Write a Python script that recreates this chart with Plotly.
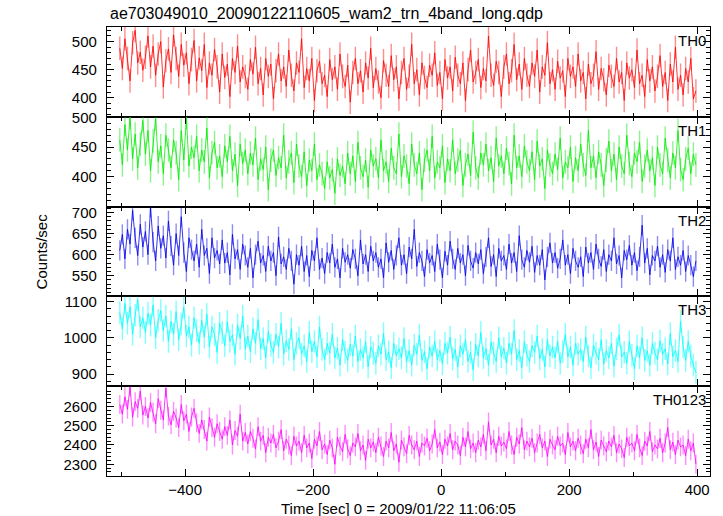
import numpy as np
import plotly.graph_objects as go
from plotly.subplots import make_subplots

# ---- data (4-s bins starting at t = -502 s) ----
T_START = -502
BIN = 4

th0 = [488, 452, 505, 470, 430, 498, 520, 462, 481, 449,
       472, 510, 455, 492, 440, 478, 500, 419, 466, 487,
       445, 512, 470, 438, 495, 458, 480, 425, 468, 502,
       430, 471, 448, 495, 418, 462, 440, 486, 455, 410,
       478, 436, 460, 402, 470, 445, 492, 428, 455, 438,
       415, 468, 442, 490, 425, 452, 405, 470, 438, 460,
       398, 448, 478, 430, 455, 420, 485, 440, 412, 462,
       445, 505, 418, 452, 430, 470, 395, 448, 465, 425,
       440, 402, 468, 432, 455, 415, 478, 438, 420, 458,
       392, 445, 470, 425, 448, 410, 462, 435, 488, 418,
       452, 428, 400, 466, 440, 420, 475, 432, 455, 398,
       445, 470, 415, 438, 495, 425, 450, 405, 462, 436,
       418, 458, 440, 480, 422, 445, 398, 468, 435, 455,
       412, 472, 440, 425, 462, 395, 450, 485, 428, 445,
       468, 418, 452, 430, 510, 440, 422, 465, 445, 402,
       455, 478, 425, 448, 495, 432, 460, 415, 470, 440,
       420, 462, 438, 485, 410, 455, 440, 498, 425, 450,
       415, 465, 435, 448, 402, 470, 438, 455, 420, 478,
       430, 445, 398, 460, 425, 440, 482, 415, 452, 432,
       405, 458, 438, 420, 470, 428, 445, 395, 462, 435,
       450, 418, 485, 425, 440, 402, 468, 430, 455, 412,
       438, 475, 420, 445, 395, 460, 428, 490, 415, 440,
       405, 452, 428, 470, 398, 412]

th1 = [462, 420, 488, 445, 500, 430, 472, 415, 455, 495,
       438, 478, 410, 460, 498, 425, 452, 405, 470, 445,
       415, 462, 440, 395, 478, 428, 500, 418, 450, 432,
       468, 410, 445, 425, 482, 398, 440, 458, 415, 435,
       400, 452, 425, 468, 410, 438, 385, 455, 422, 445,
       405, 440, 420, 465, 395, 430, 412, 450, 378, 428,
       445, 402, 432, 415, 470, 398, 425, 440, 390, 455,
       418, 400, 442, 385, 428, 410, 455, 395, 420, 405,
       380, 425, 398, 412, 372, 430, 402, 418, 388, 440,
       405, 435, 392, 458, 415, 400, 428, 382, 445, 418,
       430, 398, 462, 410, 425, 392, 448, 415, 405, 472,
       400, 435, 418, 388, 455, 420, 405, 440, 378, 428,
       445, 410, 468, 398, 425, 415, 452, 390, 430, 410,
       462, 405, 428, 445, 385, 420, 438, 402, 475, 415,
       398, 440, 420, 455, 410, 432, 392, 465, 418, 435,
       405, 448, 422, 388, 470, 415, 435, 400, 452, 425,
       410, 442, 395, 460, 418, 430, 380, 445, 420, 405,
       438, 412, 465, 398, 425, 415, 450, 392, 432, 410,
       455, 420, 402, 478, 415, 435, 398, 442, 420, 385,
       428, 460, 410, 438, 395, 450, 418, 405, 470, 422,
       400, 440, 425, 458, 392, 418, 445, 410, 432, 385,
       450, 420, 405, 465, 428, 398, 440, 415, 478, 412,
       395, 430, 448, 405, 438, 420]

th2 = [610, 648, 590, 660, 625, 705, 640, 598, 672, 618,
       655, 600, 712, 630, 585, 668, 615, 645, 592, 680,
       620, 575, 650, 598, 690, 605, 560, 640, 612, 585,
       625, 570, 660, 598, 615, 555, 640, 592, 610, 578,
       635, 580, 605, 552, 648, 590, 612, 565, 625, 598,
       570, 615, 545, 600, 632, 580, 598, 560, 620, 585,
       605, 550, 642, 578, 595, 565, 615, 585, 530, 600,
       575, 620, 560, 598, 548, 610, 585, 640, 565, 592,
       555, 605, 580, 625, 570, 590, 545, 615, 582, 600,
       568, 612, 590, 550, 635, 578, 600, 560, 620, 585,
       605, 570, 590, 545, 628, 582, 610, 565, 598, 640,
       575, 600, 555, 618, 590, 660, 572, 605, 585, 548,
       612, 580, 598, 560, 625, 588, 545, 608, 575, 632,
       590, 565, 615, 580, 600, 550, 622, 585, 568, 605,
       578, 612, 555, 595, 640, 572, 600, 548, 615, 585,
       598, 565, 625, 580, 605, 560, 645, 588, 570, 610,
       582, 620, 558, 598, 575, 612, 540, 595, 628, 580,
       605, 568, 590, 635, 575, 600, 555, 615, 585, 570,
       595, 548, 618, 580, 605, 565, 625, 590, 572, 612,
       560, 600, 585, 640, 578, 598, 545, 610, 588, 622,
       575, 605, 562, 595, 670, 580, 615, 552, 598, 585,
       620, 570, 600, 558, 612, 585, 640, 565, 595, 575,
       610, 560, 598, 575, 548, 585]

th3 = [1070, 1025, 1095, 1040, 1085, 1010, 1062, 1105, 1030, 1055,
       1015, 1068, 1035, 1090, 1000, 1048, 1075, 1020, 1060, 990,
       1045, 1010, 1072, 995, 1038, 1085, 1005, 1030, 980, 1055,
       1020, 985, 1048, 1002, 1065, 975, 1030, 1010, 960, 1040,
       1015, 978, 1045, 990, 1008, 955, 1035, 998, 1060, 970,
       1005, 962, 1025, 985, 1050, 970, 998, 945, 1018, 980,
       960, 1010, 975, 1040, 955, 992, 968, 1025, 940, 985,
       1000, 955, 978, 935, 1015, 962, 990, 948, 1030, 968,
       940, 985, 958, 1010, 945, 972, 925, 995, 960, 938,
       982, 950, 1005, 935, 968, 945, 990, 920, 975, 958,
       930, 978, 955, 1012, 940, 962, 918, 985, 950, 970,
       945, 998, 935, 965, 925, 980, 955, 1008, 938, 962,
       915, 975, 950, 990, 940, 965, 928, 985, 958, 1002,
       942, 968, 920, 978, 955, 995, 935, 960, 912, 982,
       950, 1015, 945, 970, 925, 988, 958, 935, 1000, 948,
       972, 930, 985, 955, 1020, 940, 965, 918, 990, 952,
       935, 978, 960, 1005, 942, 968, 920, 995, 950, 975,
       945, 990, 930, 962, 1010, 948, 975, 925, 985, 955,
       968, 935, 1002, 950, 918, 980, 958, 940, 995, 928,
       965, 945, 985, 922, 970, 1008, 948, 960, 930, 990,
       952, 915, 978, 945, 1000, 938, 965, 925, 985, 958,
       940, 992, 955, 970, 928, 1012, 948, 965, 935, 1045,
       975, 938, 990, 950, 925, 905]

th0123 = [2610, 2560, 2650, 2585, 2700, 2545, 2625, 2590, 2680, 2555,
          2600, 2540, 2620, 2570, 2510, 2640, 2580, 2530, 2695, 2550,
          2505, 2575, 2540, 2490, 2610, 2525, 2560, 2470, 2545, 2590,
          2515, 2460, 2530, 2480, 2420, 2545, 2490, 2440, 2510, 2470,
          2430, 2495, 2450, 2530, 2400, 2475, 2445, 2560, 2420, 2465,
          2405, 2470, 2435, 2380, 2495, 2420, 2450, 2360, 2440, 2410,
          2455, 2385, 2420, 2480, 2370, 2430, 2400, 2345, 2445, 2395,
          2420, 2360, 2450, 2385, 2410, 2330, 2430, 2395, 2470, 2375,
          2405, 2350, 2425, 2385, 2300, 2440, 2395, 2365, 2455, 2380,
          2345, 2410, 2390, 2460, 2370, 2400, 2320, 2430, 2385, 2415,
          2360, 2440, 2395, 2340, 2420, 2385, 2465, 2370, 2405, 2310,
          2425, 2390, 2355, 2450, 2400, 2375, 2420, 2340, 2410, 2395,
          2435, 2370, 2405, 2480, 2385, 2415, 2350, 2430, 2395, 2460,
          2375, 2420, 2400, 2345, 2440, 2390, 2470, 2380, 2410, 2360,
          2425, 2390, 2455, 2370, 2520, 2400, 2430, 2360, 2445, 2395,
          2415, 2380, 2470, 2400, 2350, 2440, 2405, 2490, 2375, 2420,
          2390, 2435, 2360, 2410, 2455, 2385, 2420, 2340, 2430, 2400,
          2375, 2445, 2395, 2410, 2350, 2465, 2390, 2420, 2370, 2435,
          2400, 2355, 2430, 2385, 2480, 2375, 2415, 2340, 2425, 2395,
          2365, 2420, 2390, 2450, 2360, 2405, 2380, 2335, 2440, 2395,
          2410, 2370, 2455, 2385, 2345, 2420, 2395, 2470, 2365, 2400,
          2380, 2435, 2360, 2410, 2490, 2375, 2415, 2350, 2425, 2390,
          2400, 2345, 2430, 2370, 2410, 2300]

# typical 1-sigma statistical error per band (counts/sec)
errors = [21, 20, 24, 31, 49]

band_names = ["TH0", "TH1", "TH2", "TH3", "TH0123"]
series = [th0, th1, th2, th3, th0123]

# labelled y ticks per panel
y_labels = [[400, 450, 500], [400, 450, 500], [550, 600, 650, 700],
            [900, 1000, 1100], [2300, 2400, 2500, 2600]]
x_labels = [-400, -200, 0, 200, 400]

# ---- styling ----
line_colors = ["#ff0000", "#00ee00", "#0000ee", "#00ffff", "#ff00ff"]
err_colors = ["rgba(255,0,0,0.45)", "rgba(0,230,0,0.45)", "rgba(0,0,230,0.45)",
              "rgba(0,255,255,0.5)", "rgba(255,0,255,0.45)"]
y_ranges = [[366, 526], [349.5, 501], [501, 714], [867, 1114], [2239, 2705]]
y_minor = [10, 10, 10, 20, 20]
FONT = "Liberation Sans, Arial, Helvetica, sans-serif"

fig = make_subplots(rows=5, cols=1, shared_xaxes=True, vertical_spacing=0)

for i, (name, vals) in enumerate(zip(band_names, series)):
    v = np.asarray(vals, dtype=float)
    t = T_START + BIN * np.arange(len(v))
    lo, hi = y_ranges[i]
    # keep error bars inside their own panel
    e_plus = np.clip(np.minimum(errors[i], hi - v), 0, None)
    e_minus = np.clip(np.minimum(errors[i], v - lo), 0, None)
    fig.add_trace(
        go.Scatter(
            x=t, y=v, mode="lines", name=name,
            line=dict(color=line_colors[i], width=0.8),
            error_y=dict(type="data", symmetric=False, array=e_plus,
                         arrayminus=e_minus, color=err_colors[i],
                         thickness=1.4, width=0),
            showlegend=False, hoverinfo="skip", cliponaxis=True,
        ),
        row=i + 1, col=1,
    )
    fig.update_yaxes(
        range=y_ranges[i], tickmode="array", tickvals=y_labels[i],
        ticks="inside", ticklen=7, tickwidth=1, tickcolor="black",
        ticklabelstandoff=6,
        minor=dict(dtick=y_minor[i], tick0=0, ticks="inside", ticklen=4,
                   tickcolor="black", tickwidth=1),
        showline=True, linecolor="black", linewidth=1.2, mirror="allticks",
        showgrid=False, zeroline=False,
        tickfont=dict(family=FONT, size=15, color="black"),
        row=i + 1, col=1,
    )
    fig.update_xaxes(
        range=[-522, 420], tickmode="array", tickvals=x_labels,
        ticks="inside", ticklen=7, tickwidth=1, tickcolor="black",
        minor=dict(dtick=100, tick0=0, ticks="inside", ticklen=4,
                   tickcolor="black", tickwidth=1),
        showline=True, linecolor="black", linewidth=1.2, mirror="allticks",
        showgrid=False, zeroline=False,
        tickfont=dict(family=FONT, size=15, color="black"),
        row=i + 1, col=1,
    )
    yref = "y domain" if i == 0 else f"y{i + 1} domain"
    xref = "x domain" if i == 0 else f"x{i + 1} domain"
    fig.add_annotation(
        text=name, xref=xref, yref=yref, x=1, y=1, xanchor="right", yanchor="top",
        xshift=-2, yshift=-3, showarrow=False,
        font=dict(family=FONT, size=15, color="black"),
    )

fig.add_annotation(
    text="ae703049010_20090122110605_wam2_trn_4band_long.qdp",
    xref="paper", yref="paper", x=0, y=1.029, xanchor="left", yanchor="middle",
    xshift=1, showarrow=False, font=dict(family=FONT, size=16, color="black"),
)
fig.add_annotation(
    text="Counts/sec", xref="paper", yref="paper", x=-0.108, y=0.5,
    xanchor="center", yanchor="middle", textangle=-90, showarrow=False,
    font=dict(family=FONT, size=15, color="black"),
)
fig.add_annotation(
    text="Time [sec] 0 = 2009/01/22 11:06:05", xref="paper", yref="paper",
    x=0.484, y=-0.0713, xanchor="center", yanchor="middle", showarrow=False,
    font=dict(family=FONT, size=15, color="black"),
)

fig.update_layout(
    width=723, height=516, autosize=False,
    margin=dict(l=107, r=13, t=27, b=40),
    paper_bgcolor="white", plot_bgcolor="white",
)

fig.write_html("out.html", config={"displayModeBar": False},
               post_script="document.body.style.margin='0';")
